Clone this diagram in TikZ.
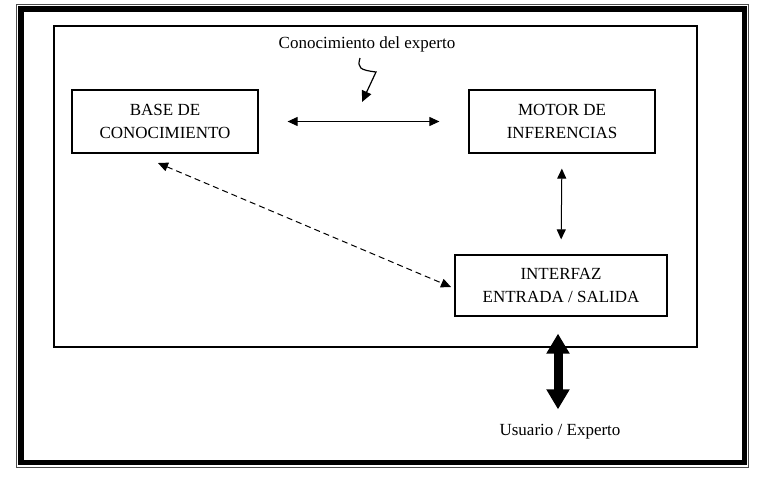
\documentclass[tikz,border=0pt]{standalone}
\usepackage{fontspec}
\setmainfont{Liberation Serif}
\usetikzlibrary{arrows.meta}
\begin{document}
\begin{tikzpicture}[x=1pt,y=-1pt,
  txt/.style={font=\fontsize{17}{23}\selectfont, align=center, inner sep=0pt},
  boxnode/.style={txt, draw, line width=1.2pt, minimum width=186pt, minimum height=63pt},
  thinarrow/.style={line width=1pt, {Triangle[length=10pt,width=9pt]}-{Triangle[length=10pt,width=9pt]}},
  fatarrow/.style={line width=9pt, {Triangle[length=20pt,width=22pt]}-{Triangle[length=20pt,width=22pt]}}]
\useasboundingbox (0,0) rectangle (760,477);
% frame
\draw[line width=0.9pt, black!70] (16.5,4.5) rectangle (748,467);
\draw[line width=5.5pt] (20.8,8.8) rectangle (744.5,462.5);
\draw[line width=1.2pt] (54,26) rectangle (697,347);
% nodes
\node[boxnode] (base) at (165,121.5) {BASE DE\\CONOCIMIENTO};
\node[boxnode] (motor) at (562,121.5) {MOTOR DE\\INFERENCIAS};
\node[boxnode, minimum width=212pt, minimum height=61pt] (interfaz) at (561,285.5) {INTERFAZ\\ENTRADA / SALIDA};
\node[txt] (conoc) at (367,44) {Conocimiento del experto};
\node[txt] (usuario) at (560,432) {Usuario / Experto};
% connectors
\draw[thinarrow, shorten <=29pt, shorten >=29pt] (base.east) -- (motor.west);
\draw[thinarrow, shorten <=15pt, shorten >=15pt] (motor.south) -- (interfaz.north);
\coordinate (d1) at (158,163);
\coordinate (d2) at (451,287);
\draw[thinarrow, dash pattern=on 6pt off 4pt] (d1) -- (d2);
\coordinate (s0) at (360,58);
\coordinate (s1) at (376,72);
\coordinate (s2) at (362,102);
\draw[line width=1.2pt, -{Triangle[length=11pt,width=10pt]}] (s0) .. controls (357,68) and (360,70) .. (s1) -- (s2);
\draw[fatarrow, shorten <=17pt, shorten >=15pt] ([xshift=-3pt]interfaz.south) -- ([xshift=-2pt]usuario.north);
\end{tikzpicture}
\end{document}
